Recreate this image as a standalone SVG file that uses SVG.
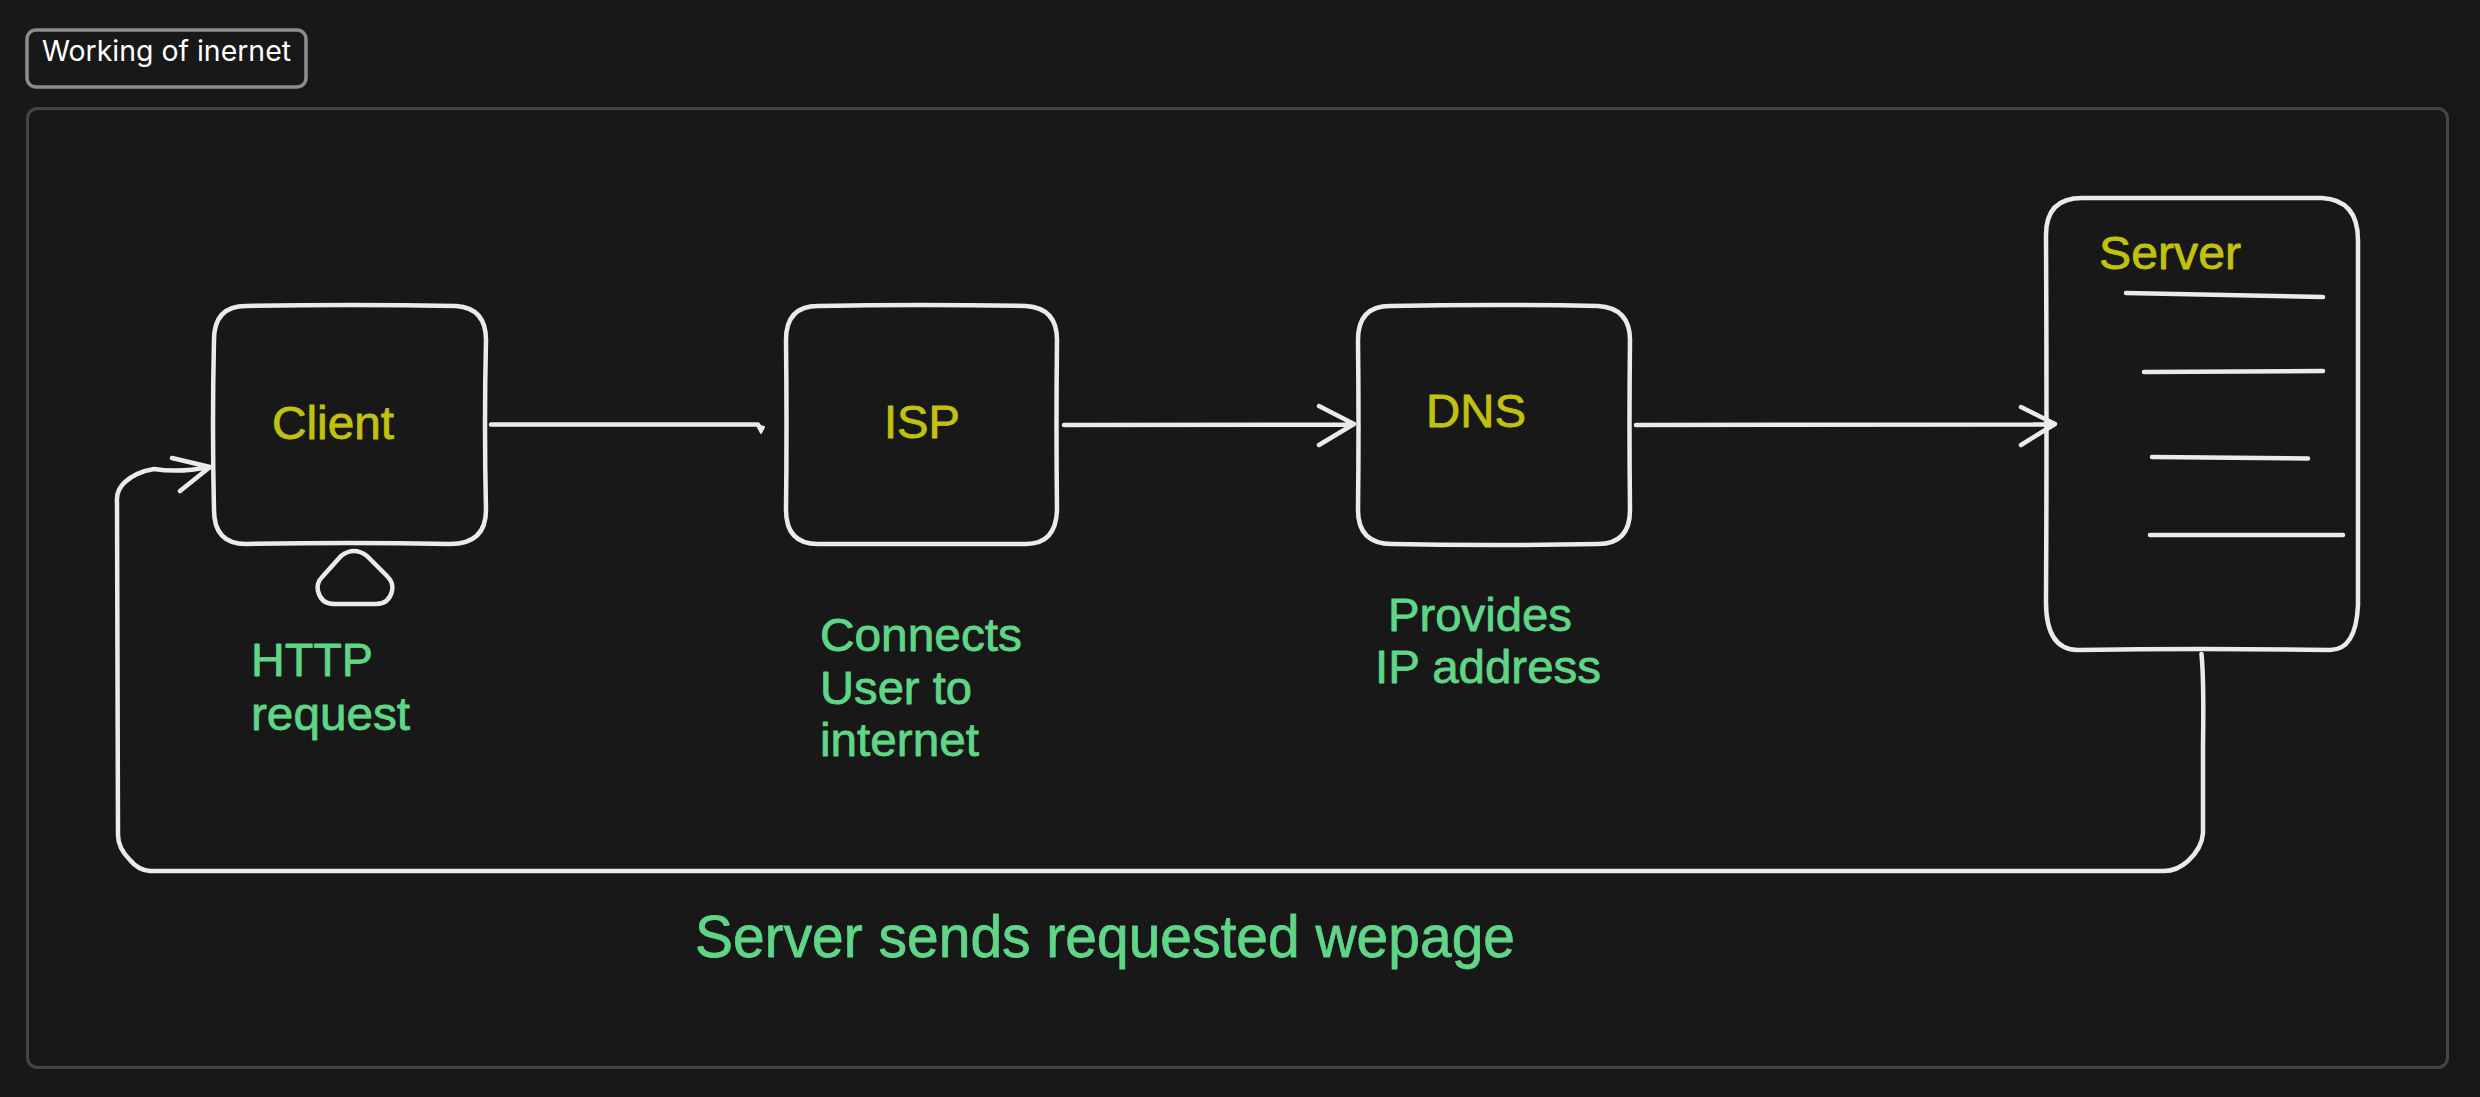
<svg xmlns="http://www.w3.org/2000/svg" width="2480" height="1097" viewBox="0 0 2480 1097">
<style>
.s{fill:none;stroke:#ebebeb;stroke-width:4.5;stroke-linecap:round;stroke-linejoin:round}
.y{fill:#c0c20f;stroke:#c0c20f;stroke-width:.8;stroke-linejoin:round;font-family:"Liberation Sans",Arial,sans-serif;font-size:47px}
.g{fill:#5fd687;stroke:#5fd687;stroke-width:.8;stroke-linejoin:round;font-family:"Liberation Sans",Arial,sans-serif;font-size:47px}
</style>
<rect width="2480" height="1097" fill="#181818"/>
<g id="frame"><rect x="27.500" y="108.500" width="2420" height="959" rx="10" fill="none" stroke="#434548" stroke-width="3"/></g>
<g id="title">
<rect x="27" y="30" width="279" height="57" rx="9" fill="none" stroke="#8c8c8c" stroke-width="3.500"/>
<text x="42" y="61" textLength="249" lengthAdjust="spacingAndGlyphs" style="fill:#fff;font-family:Inter,sans-serif;font-size:28px">Working of inernet</text>
</g>
<g id="client">
<path class="s" d="M246 306Q350 304 456 306Q486 308 486 340Q484 425 486 510Q486 544 450 544Q350 542 246 544Q214 544 214 510Q212 425 214 340Q214 306 246 306Z"/>
<text class="y" x="272" y="439" textLength="122" lengthAdjust="spacingAndGlyphs">Client</text>
</g>
<g id="client-stand">
<path class="s" d="M341 556Q354 546 367 556L387 576Q394 583 392 591Q389 604 376 604L334 604Q321 604 318 591Q316 583 323 576Z"/>
</g>
<g id="http-label">
<text class="g" x="251" y="676" textLength="122" lengthAdjust="spacingAndGlyphs">HTTP</text>
<text class="g" x="251" y="730" textLength="159" lengthAdjust="spacingAndGlyphs">request</text>
</g>
<g id="isp">
<path class="s" d="M818 306Q920 304 1026 306Q1057 308 1057 340Q1056 425 1057 510Q1056 544 1026 544Q920 544 818 544Q786 544 786 510Q787 425 786 340Q786 306 818 306Z"/>
<text class="y" x="884" y="438" textLength="76" lengthAdjust="spacingAndGlyphs">ISP</text>
</g>
<g id="isp-label">
<text class="g" x="820" y="651" textLength="202" lengthAdjust="spacingAndGlyphs">Connects</text>
<text class="g" x="820" y="704" textLength="152" lengthAdjust="spacingAndGlyphs">User to</text>
<text class="g" x="820" y="756" textLength="159" lengthAdjust="spacingAndGlyphs">internet</text>
</g>
<g id="dns">
<path class="s" d="M1390 306Q1490 304 1598 306Q1630 308 1630 340Q1629 425 1630 510Q1630 544 1598 544Q1490 546 1392 544Q1358 544 1358 510Q1359 425 1358 340Q1358 306 1390 306Z"/>
<text class="y" x="1426" y="427" textLength="100" lengthAdjust="spacingAndGlyphs">DNS</text>
</g>
<g id="dns-label">
<text class="g" x="1388" y="631" textLength="184" lengthAdjust="spacingAndGlyphs">Provides</text>
<text class="g" x="1375" y="683" textLength="226" lengthAdjust="spacingAndGlyphs">IP address</text>
</g>
<g id="server">
<path class="s" d="M2082 198Q2200 198 2322 198Q2358 200 2358 240Q2358 420 2358 605Q2356 650 2330 650Q2200 648 2078 650Q2046 650 2046 602Q2047 420 2046 235Q2046 198 2082 198Z"/>
<text class="y" x="2099" y="269" textLength="142" lengthAdjust="spacingAndGlyphs">Server</text>
<path class="s" d="M2126 293L2323 297M2144 372L2323 371M2152 457L2308 458.500M2150 535L2343 535"/>
</g>
<g id="connectors">
<path class="s" d="M491 424.500L758 424.500L760 428"/>
<path d="M757 425L764 427L761 433Z" fill="#ebebeb" stroke="#ebebeb" stroke-width="2" stroke-linejoin="round"/>
<path class="s" d="M1064 425L1352 424.500M1319 406L1354 424L1319 445"/>
<path class="s" d="M1636 425L2052 424.500M2021 407L2055 424L2021 445"/>
<path class="s" d="M2201.500 654Q2204 680 2203 745L2203 833Q2202 848 2188 861Q2177 871 2164 871L150 871Q138 870 130 860Q118 848 118 835L117 502Q116 490 125 482Q136 472 154 469Q180 473 209 467M172 458L210 467L180 491"/>
</g>
<g id="return-label">
<text class="g" x="695" y="957" textLength="820" lengthAdjust="spacingAndGlyphs" style="font-size:59px">Server sends requested wepage</text>
</g>
</svg>
